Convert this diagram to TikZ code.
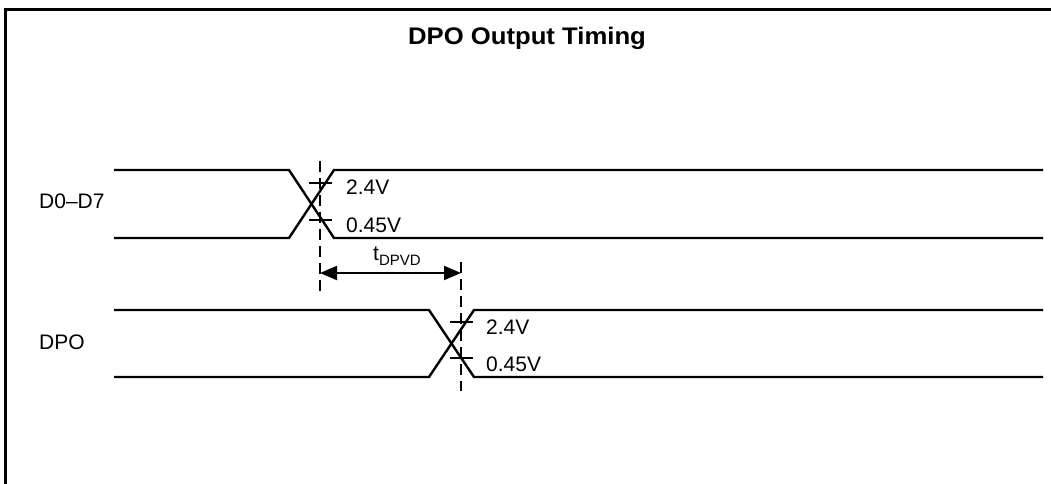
\documentclass[tikz,border=0pt]{standalone}
\usepackage{fontspec}
\setmainfont{Liberation Sans}
\usetikzlibrary{arrows.meta}
\newcommand{\mysubtxt}[1]{\raisebox{-0.28em}{\fontsize{15}{18}\selectfont #1}}
\begin{document}
\begin{tikzpicture}[x=1pt,y=-1pt,
  frame/.style={line width=3pt},
  sig/.style={line width=2.4pt, line join=miter},
  guide/.style={line width=2pt, dash pattern=on 11pt off 6pt},
  tick/.style={line width=2.2pt},
  lbl/.style={font=\fontsize{21}{25}\selectfont, inner sep=0pt},
  ttl/.style={font=\fontsize{24}{28}\selectfont\bfseries, inner sep=0pt, xscale=1.07, transform shape},
  dim/.style={line width=2pt, {Triangle[length=17pt,width=14pt]}-{Triangle[length=17pt,width=14pt]}}
]
\useasboundingbox (0,0) rectangle (1051,484);
% frame
\draw[frame] (1051,10) -- (5,10) -- (5,484);
% title
\node[ttl, anchor=base] (title) at (527,45) {DPO Output Timing};
% signal labels
\node[lbl, anchor=west] (d0lbl) at (39,201) {D0--D7};
\node[lbl, anchor=west] (dpolbl) at (39,342) {DPO};
% D0-D7 waveform
\draw[sig] (114,170) -- (289,170) -- (334,238) -- (1043,238);
\draw[sig] (114,238) -- (289,238) -- (334,170) -- (1043,170);
% DPO waveform
\draw[sig] (114,310) -- (429,310) -- (474,377) -- (1043,377);
\draw[sig] (114,377) -- (429,377) -- (474,310) -- (1043,310);
% reference dashed lines
\coordinate (a1) at (320,161);
\coordinate (a2) at (320,297);
\coordinate (b1) at (461,262);
\coordinate (b2) at (461,391);
\draw[guide] (a1) -- (a2);
\draw[guide] (b1) -- (b2);
% threshold ticks D0-D7
\draw[tick] (309,183) -- (332,183);
\draw[tick] (309,220) -- (332,220);
\node[lbl, anchor=west] (d0hi) at (346,187) {2.4V};
\node[lbl, anchor=west] (d0lo) at (346,225) {0.45V};
% threshold ticks DPO
\draw[tick] (450,322) -- (473,322);
\draw[tick] (450,358) -- (473,358);
\node[lbl, anchor=west] (dpohi) at (486,327) {2.4V};
\node[lbl, anchor=west] (dpolo) at (486,364) {0.45V};
% timing arrow
\coordinate (ta) at (320,273);
\coordinate (tb) at (461,273);
\draw[dim] (ta) -- (tb);
\node[lbl, anchor=base west] (tlbl) at (373,260) {t\mysubtxt{DPVD}};
\end{tikzpicture}
\end{document}
